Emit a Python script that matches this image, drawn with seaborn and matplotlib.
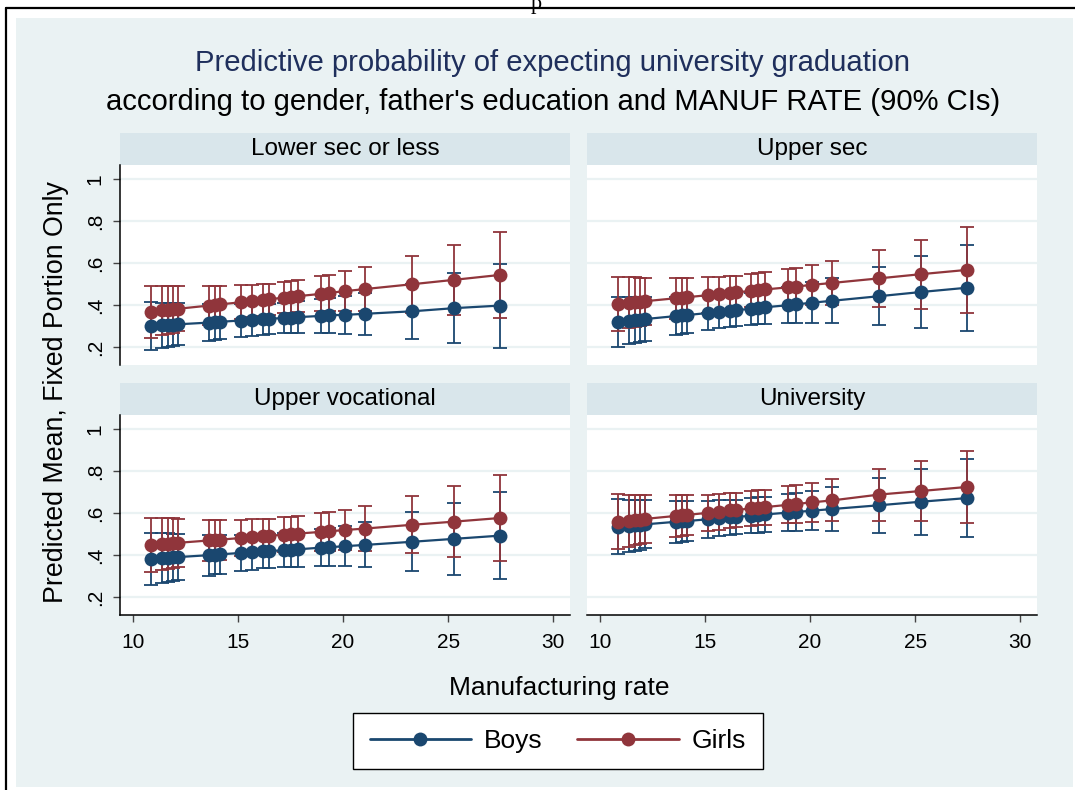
import numpy as np
import pandas as pd
import matplotlib
matplotlib.use("Agg")
import matplotlib.pyplot as plt
import seaborn as sns
from matplotlib.patches import Rectangle
from matplotlib.lines import Line2D

# ---------------------------------------------------------------------------
# Data: predicted probability (fixed portion) with 90% CI half-widths
# ---------------------------------------------------------------------------
manuf_rate = [10.85, 11.4, 11.65, 11.9, 12.15, 13.6, 13.9, 14.15, 15.15, 15.65,
              16.2, 16.45, 17.2, 17.5, 17.85, 18.95, 19.35, 20.1, 21.05, 23.3,
              25.3, 27.45]

panel_titles = ["Lower sec or less", "Upper sec", "Upper vocational", "University"]
sexes = ["Boys", "Girls"]

# Lower secondary or less
boys_lowsec = [0.300, 0.303, 0.305, 0.306, 0.308, 0.316, 0.318, 0.320, 0.326, 0.329,
               0.332, 0.334, 0.338, 0.340, 0.342, 0.348, 0.351, 0.353, 0.358, 0.370,
               0.385, 0.397]
boys_lowsec_ci = [0.113, 0.108, 0.105, 0.103, 0.100, 0.088, 0.085, 0.083, 0.077, 0.075,
                  0.073, 0.073, 0.073, 0.074, 0.075, 0.080, 0.083, 0.090, 0.100, 0.130,
                  0.165, 0.200]
girls_lowsec = [0.368, 0.374, 0.376, 0.379, 0.382, 0.397, 0.400, 0.403, 0.413, 0.419,
                0.424, 0.427, 0.435, 0.438, 0.442, 0.453, 0.458, 0.466, 0.476, 0.499,
                0.520, 0.543]
girls_lowsec_ci = [0.123, 0.117, 0.114, 0.111, 0.108, 0.093, 0.090, 0.088, 0.081, 0.078,
                   0.075, 0.074, 0.073, 0.074, 0.075, 0.083, 0.086, 0.094, 0.105, 0.136,
                   0.168, 0.205]

# Upper secondary
boys_uppsec = [0.320, 0.325, 0.328, 0.330, 0.333, 0.347, 0.350, 0.352, 0.362, 0.367,
               0.372, 0.375, 0.382, 0.385, 0.389, 0.399, 0.403, 0.411, 0.420, 0.442,
               0.462, 0.482]
boys_uppsec_ci = [0.118, 0.112, 0.109, 0.106, 0.103, 0.090, 0.087, 0.085, 0.079, 0.077,
                  0.076, 0.076, 0.077, 0.078, 0.080, 0.086, 0.090, 0.097, 0.108, 0.138,
                  0.172, 0.205]
girls_uppsec = [0.405, 0.410, 0.413, 0.415, 0.418, 0.432, 0.435, 0.437, 0.447, 0.452,
                0.457, 0.460, 0.467, 0.470, 0.474, 0.484, 0.488, 0.496, 0.505, 0.527,
                0.547, 0.567]
girls_uppsec_ci = [0.127, 0.121, 0.118, 0.115, 0.112, 0.097, 0.094, 0.092, 0.085, 0.082,
                   0.080, 0.079, 0.079, 0.080, 0.081, 0.087, 0.090, 0.094, 0.106, 0.135,
                   0.165, 0.203]

# Upper vocational
boys_uppvoc = [0.381, 0.385, 0.386, 0.388, 0.390, 0.399, 0.401, 0.403, 0.410, 0.413,
               0.417, 0.418, 0.423, 0.425, 0.427, 0.435, 0.437, 0.442, 0.448, 0.463,
               0.477, 0.492]
boys_uppvoc_ci = [0.126, 0.120, 0.117, 0.114, 0.111, 0.097, 0.094, 0.092, 0.085, 0.083,
                  0.081, 0.081, 0.081, 0.082, 0.083, 0.088, 0.091, 0.096, 0.107, 0.140,
                  0.172, 0.207]
girls_uppvoc = [0.448, 0.452, 0.454, 0.456, 0.458, 0.469, 0.471, 0.473, 0.481, 0.485,
                0.489, 0.491, 0.497, 0.499, 0.502, 0.510, 0.513, 0.519, 0.526, 0.544,
                0.559, 0.576]
girls_uppvoc_ci = [0.130, 0.124, 0.121, 0.118, 0.115, 0.100, 0.097, 0.095, 0.088, 0.085,
                   0.083, 0.082, 0.082, 0.083, 0.084, 0.090, 0.093, 0.097, 0.106, 0.135,
                   0.168, 0.205]

# University
boys_univ = [0.535, 0.540, 0.542, 0.544, 0.546, 0.558, 0.560, 0.562, 0.570, 0.575,
             0.579, 0.581, 0.587, 0.590, 0.593, 0.602, 0.605, 0.611, 0.619, 0.637,
             0.654, 0.671]
boys_univ_ci = [0.130, 0.124, 0.121, 0.118, 0.115, 0.100, 0.097, 0.095, 0.088, 0.086,
                0.084, 0.083, 0.083, 0.084, 0.085, 0.089, 0.091, 0.094, 0.103, 0.131,
                0.157, 0.186]
girls_univ = [0.559, 0.564, 0.567, 0.569, 0.572, 0.586, 0.589, 0.591, 0.601, 0.606,
              0.612, 0.614, 0.622, 0.625, 0.628, 0.639, 0.643, 0.651, 0.660, 0.688,
              0.705, 0.724]
girls_univ_ci = [0.130, 0.124, 0.121, 0.118, 0.115, 0.100, 0.097, 0.094, 0.087, 0.085,
                 0.083, 0.082, 0.082, 0.083, 0.084, 0.088, 0.090, 0.092, 0.100, 0.124,
                 0.145, 0.170]

x_ticks = [10, 15, 20, 25, 30]
y_ticks = [0.2, 0.4, 0.6, 0.8, 1.0]
y_tick_labels = [".2", ".4", ".6", ".8", "1"]

series = {
    ("Lower sec or less", "Boys"): (boys_lowsec, boys_lowsec_ci),
    ("Lower sec or less", "Girls"): (girls_lowsec, girls_lowsec_ci),
    ("Upper sec", "Boys"): (boys_uppsec, boys_uppsec_ci),
    ("Upper sec", "Girls"): (girls_uppsec, girls_uppsec_ci),
    ("Upper vocational", "Boys"): (boys_uppvoc, boys_uppvoc_ci),
    ("Upper vocational", "Girls"): (girls_uppvoc, girls_uppvoc_ci),
    ("University", "Boys"): (boys_univ, boys_univ_ci),
    ("University", "Girls"): (girls_univ, girls_univ_ci),
}

rows = []
for (panel, sex), (means, hws) in series.items():
    for x, m, h in zip(manuf_rate, means, hws):
        rows.append({"panel": panel, "sex": sex, "rate": x, "mean": m, "hw": h})
df = pd.DataFrame(rows)

# ---------------------------------------------------------------------------
# Style
# ---------------------------------------------------------------------------
sns.set_theme(style="white")
plt.rcParams["font.family"] = ["Liberation Sans", "DejaVu Sans"]
plt.rcParams["text.color"] = "black"
plt.rcParams["axes.labelcolor"] = "black"
plt.rcParams["xtick.color"] = "black"
plt.rcParams["ytick.color"] = "black"

palette = {"Boys": "#1a476f", "Girls": "#90353b"}
region_bg = "#eaf2f3"
strip_bg = "#d9e6eb"
grid_col = "#eaf2f3"

W, H = 1075, 790
fig = plt.figure(figsize=(W / 100, H / 100), dpi=100)
fig.patch.set_facecolor("white")


def fx(px):
    return px / W


def fy(py):
    return 1 - py / H


# graph region background and outer frame
fig.patches.append(Rectangle((fx(16), fy(787)), fx(1073) - fx(16), fy(18) - fy(787),
                             transform=fig.transFigure, facecolor=region_bg,
                             edgecolor="none", zorder=-5))
fig.add_artist(Line2D([fx(6), fx(1075)], [fy(8), fy(8)], transform=fig.transFigure,
                      color="black", lw=1.6))
fig.add_artist(Line2D([fx(6), fx(6)], [fy(8), fy(790)], transform=fig.transFigure,
                      color="black", lw=1.6))
fig.text(fx(536), fy(9), "p", family="Liberation Serif", fontsize=16,
         ha="center", va="baseline", color="black")

# titles
fig.text(fx(553), fy(63), "Predictive probability of expecting university graduation",
         ha="center", va="center", fontsize=21.1, color="#1f2f5c")
fig.text(fx(553), fy(102),
         "according to gender, father's education and MANUF RATE (90% CIs)",
         ha="center", va="center", fontsize=21.1, color="black")

# panel geometry (pixels)
cols = [(120, 570), (587, 1037)]
rows_px = [(165, 365), (415, 615)]
strip_h = 32

for i, panel in enumerate(panel_titles):
    r, c = divmod(i, 2)
    x0, x1 = cols[c]
    y0, y1 = rows_px[r]

    # strip header
    sax = fig.add_axes([fx(x0), fy(y0), fx(x1) - fx(x0), fy(y0 - strip_h) - fy(y0)])
    sax.set_facecolor(strip_bg)
    sax.set_xticks([])
    sax.set_yticks([])
    for s in sax.spines.values():
        s.set_visible(False)
    sax.text(0.5, 0.5, panel, ha="center", va="center", fontsize=17.5,
             transform=sax.transAxes)

    ax = fig.add_axes([fx(x0), fy(y1), fx(x1) - fx(x0), fy(y0) - fy(y1)])
    ax.set_facecolor("white")
    sub = df[df["panel"] == panel]

    for sex in sexes:
        s = sub[sub["sex"] == sex]
        ax.errorbar(s["rate"], s["mean"], yerr=s["hw"], fmt="none",
                    ecolor=palette[sex], elinewidth=1.3, capsize=4.8,
                    capthick=1.3, zorder=2)
    sns.lineplot(data=sub, x="rate", y="mean", hue="sex", hue_order=sexes,
                 palette=palette, marker="o", markersize=10, markeredgewidth=0,
                 linewidth=1.6, errorbar=None, legend=False, ax=ax, zorder=3)

    ax.set_xlim(9.38, 30.8)
    ax.set_ylim(0.114, 1.067)
    ax.set_yticks(y_ticks)
    ax.set_xticks(x_ticks)
    ax.yaxis.grid(True, color=grid_col, lw=1.6)
    ax.xaxis.grid(False)
    ax.set_axisbelow(True)
    ax.set_xlabel("")
    ax.set_ylabel("")
    for sp in ["top", "right"]:
        ax.spines[sp].set_visible(False)
    ax.spines["left"].set_visible(c == 0)
    ax.spines["bottom"].set_visible(r == 1)
    ax.spines["left"].set_color("black")
    ax.spines["bottom"].set_color("black")
    ax.spines["left"].set_linewidth(1.1)
    ax.spines["bottom"].set_linewidth(1.1)

    if c == 0:
        ax.set_yticklabels(y_tick_labels, rotation=90, va="center", fontsize=15)
        ax.tick_params(axis="y", length=5, width=1, color="#444444", pad=6,
                       left=True)
    else:
        ax.tick_params(axis="y", left=False, labelleft=False)
    if r == 1:
        ax.set_xticklabels([str(t) for t in x_ticks], fontsize=15)
        ax.tick_params(axis="x", length=5, width=1, color="#444444", pad=8,
                       bottom=True)
    else:
        ax.tick_params(axis="x", bottom=False, labelbottom=False)

# axis titles
fig.text(fx(559), fy(688), "Manufacturing rate", ha="center", va="center",
         fontsize=19)
fig.text(fx(56), fy(392), "Predicted Mean, Fixed Portion Only", ha="center",
         va="center", rotation=90, fontsize=19.3)

# legend
handles = [Line2D([], [], color=palette[s], marker="o", markersize=10,
                  markeredgewidth=0, lw=2.0, label=s) for s in sexes]
leg = fig.legend(handles=handles, loc="center", ncol=2,
                 bbox_to_anchor=(fx(558), fy(741)), fontsize=19,
                 frameon=True, fancybox=False, edgecolor="black",
                 framealpha=1.0, handlelength=3.85, handletextpad=0.5,
                 columnspacing=1.3, borderpad=0.62)
leg.get_frame().set_linewidth(1.0)
leg.get_frame().set_facecolor("white")

fig.savefig("out.png", dpi=100)
